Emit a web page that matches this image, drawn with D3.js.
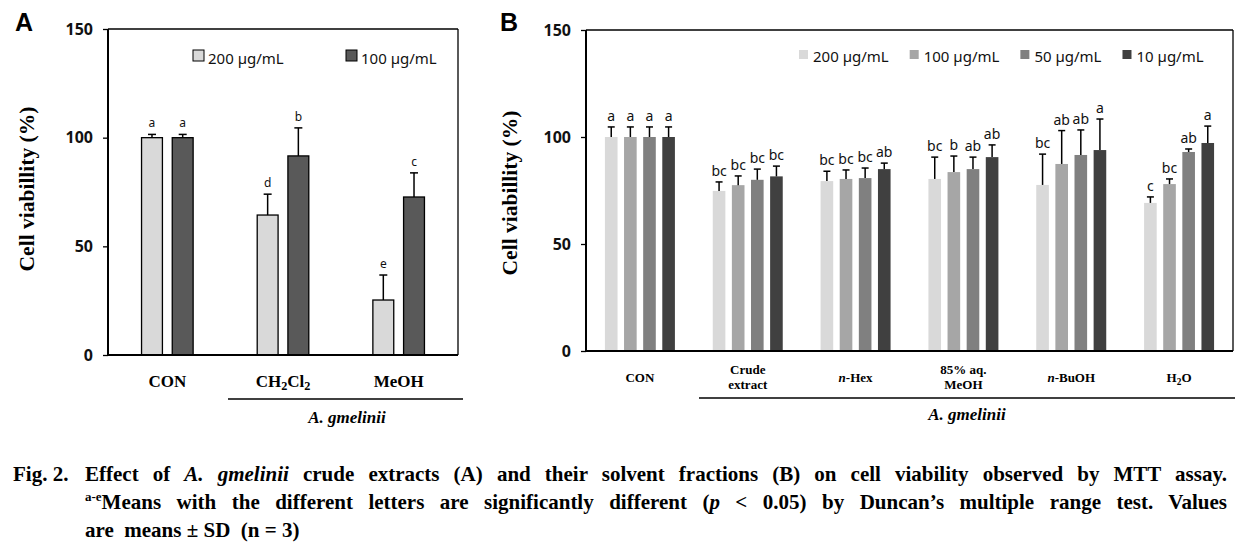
<!DOCTYPE html>
<html><head><meta charset="utf-8">
<script src="https://cdn.jsdelivr.net/npm/d3@7"></script>
<style>body{margin:0;background:#fff;} svg{display:block}</style>
</head><body>
<svg id="c" width="1252" height="549"></svg>
<script>
// ---------- data ----------
const yTicks = [0, 50, 100, 150];

const catsA = ["CON", "CH2Cl2", "MeOH"];
const labelsA = ["CON", "CH_2Cl_2", "MeOH"];
const seriesA = ["200 µg/mL", "100 µg/mL"];
const valuesA200 = [100, 64.4, 25.3];
const errorsA200 = [1.5, 9.6, 11.5];
const lettersA200 = ["a", "d", "e"];
const valuesA100 = [100, 91.6, 72.7];
const errorsA100 = [1.5, 12.9, 11.1];
const lettersA100 = ["a", "b", "c"];

const catsB = ["CON", "Crude extract", "n-Hex", "85% aq. MeOH", "n-BuOH", "H2O"];
const labelsB = ["CON", "Crude|extract", "*n*-Hex", "85% aq.|MeOH", "*n*-BuOH", "H_2O"];
const seriesB = ["200 µg/mL", "100 µg/mL", "50 µg/mL", "10 µg/mL"];
const valuesB200 = [100, 74.8, 79.4, 80.4, 77.6, 69.2];
const errorsB200 = [4.7, 4.2, 4.6, 10.2, 14.4, 2.8];
const lettersB200 = ["a", "bc", "bc", "bc", "bc", "c"];
const valuesB100 = [100, 77.5, 80.4, 83.6, 87.4, 78.0];
const errorsB100 = [4.7, 4.3, 4.2, 7.5, 15.6, 2.4];
const lettersB100 = ["a", "bc", "bc", "b", "ab", "bc"];
const valuesB50 = [100, 80.0, 80.8, 85.0, 91.6, 93.0];
const errorsB50 = [4.7, 5.0, 4.7, 5.6, 11.7, 1.4];
const lettersB50 = ["a", "bc", "bc", "ab", "ab", "ab"];
const valuesB10 = [100, 81.6, 85.0, 90.6, 93.9, 97.2];
const errorsB10 = [4.7, 4.8, 2.8, 5.7, 14.5, 7.9];
const lettersB10 = ["a", "bc", "ab", "ab", "a", "a"];

const groupLabel = "A. gmelinii";
const yTitle = "Cell viabillity (%)";

// ---------- drawing ----------
const svg = d3.select("#c");
const serif = "'Liberation Serif','Times New Roman',serif";
const sans = "'Noto Sans','Open Sans',sans-serif";

function richText(sel, markup) {
  const parts = markup.split(/(\*[^*]+\*|_\d)/).filter(s => s.length);
  let shifted = 0;
  parts.forEach(p => {
    const t = sel.append("tspan");
    if (p.startsWith("*")) { t.text(p.slice(1, -1)).attr("font-style", "italic"); if (shifted) { t.attr("dy", -shifted); shifted = 0; } }
    else if (p.startsWith("_")) { t.text(p.slice(1)).attr("font-size", "0.72em").attr("dy", 3 - shifted); shifted = 3; }
    else { t.text(p); if (shifted) { t.attr("dy", -shifted); shifted = 0; } }
  });
}

function drawPanel(o) {
  const g = svg.append("g");
  const y = d3.scaleLinear().domain([0, 150]).range([o.bottom, o.top]);
  const x0 = d3.scaleBand().domain(o.cats).range([o.left, o.right]).paddingInner(o.pIn).paddingOuter(o.pOut);
  const x1 = d3.scaleBand().domain(o.series).range([0, x0.bandwidth()]).paddingInner(o.barPad);

  o.series.forEach((s, si) => {
    const rows = o.cats.map((c, ci) => ({ c, v: o.values[si][ci], e: o.errors[si][ci], l: o.letters[si][ci] }));
    const sg = g.append("g");
    sg.selectAll("rect").data(rows).join("rect")
      .attr("x", d => x0(d.c) + x1(s)).attr("width", x1.bandwidth())
      .attr("y", d => y(d.v)).attr("height", d => y(0) - y(d.v))
      .attr("fill", o.colors[si])
      .attr("stroke", o.stroke ? "#000" : "none").attr("stroke-width", 1.3);
    const cx = d => x0(d.c) + x1(s) + x1.bandwidth() / 2;
    sg.selectAll("line.v").data(rows).join("line").attr("class", "v")
      .attr("x1", cx).attr("x2", cx).attr("y1", d => y(d.v)).attr("y2", d => y(d.v + d.e))
      .attr("stroke", "#000").attr("stroke-width", 1.5);
    sg.selectAll("line.cap").data(rows).join("line").attr("class", "cap")
      .attr("x1", d => cx(d) - o.cap / 2).attr("x2", d => cx(d) + o.cap / 2)
      .attr("y1", d => y(d.v + d.e)).attr("y2", d => y(d.v + d.e))
      .attr("stroke", "#000").attr("stroke-width", 1.5);
    sg.selectAll("text").data(rows).join("text")
      .attr("x", cx).attr("y", d => y(d.v + d.e) - o.letterOff)
      .attr("text-anchor", "middle").attr("font-family", sans).attr("font-size", o.letterSize)
      .attr("fill", "#111").text(d => d.l);
  });

  // frame
  g.append("line").attr("x1", o.left).attr("x2", o.right).attr("y1", o.top).attr("y2", o.top).attr("stroke", "#000").attr("stroke-width", 1.3);
  g.append("line").attr("x1", o.right).attr("x2", o.right).attr("y1", o.top).attr("y2", o.bottom).attr("stroke", "#000").attr("stroke-width", 1.3);
  g.append("line").attr("x1", o.left).attr("x2", o.right).attr("y1", o.bottom).attr("y2", o.bottom).attr("stroke", "#000").attr("stroke-width", 2);

  const ax = g.append("g").attr("transform", `translate(${o.left},0)`)
    .call(d3.axisLeft(y).tickValues(yTicks).tickSize(5).tickPadding(o.tickPad));
  ax.select(".domain").attr("stroke-width", 2).attr("d", `M0,${o.top}V${o.bottom}`);
  ax.selectAll(".tick line").attr("stroke-width", 1.3);
  ax.selectAll(".tick text").attr("font-family", sans).attr("font-weight", "bold").attr("font-size", 16).attr("fill", "#111");

  // category labels
  o.cats.forEach((c, ci) => {
    const lines = o.labels[ci].split("|");
    const cx = x0(c) + x0.bandwidth() / 2;
    lines.forEach((ln, li) => {
      const base = lines.length === 1 ? o.labY : o.labY2[li];
      const t = g.append("text").attr("x", cx).attr("y", base).attr("text-anchor", "middle")
        .attr("font-family", serif).attr("font-weight", "bold").attr("font-size", o.labSize);
      richText(t, ln);
    });
  });

  // group bracket
  g.append("line").attr("x1", o.brL).attr("x2", o.brR).attr("y1", o.brY).attr("y2", o.brY).attr("stroke", "#000").attr("stroke-width", 1.5);
  g.append("text").attr("x", o.grpX).attr("y", o.grpY).attr("text-anchor", "middle")
    .attr("font-family", serif).attr("font-weight", "bold").attr("font-style", "italic").attr("font-size", 17).text(groupLabel);

  // y title
  g.append("text").attr("transform", `translate(${o.titleX},${o.titleY}) rotate(-90)`)
    .attr("text-anchor", "middle").attr("font-family", serif).attr("font-weight", "bold").attr("font-size", 21.5).text(yTitle);

  // panel letter
  g.append("text").attr("x", o.letterX).attr("y", 31).attr("font-family", "'Liberation Sans',Arial,sans-serif")
    .attr("font-weight", "bold").attr("font-size", 25).text(o.panel);

  // legend
  let lx = o.legX;
  o.series.forEach((s, si) => {
    g.append("rect").attr("x", lx).attr("y", o.legY - o.legSq).attr("width", o.legSq).attr("height", o.legSq)
      .attr("fill", o.colors[si]).attr("stroke", o.stroke ? "#000" : "none").attr("stroke-width", 1);
    const t = g.append("text").attr("x", lx + o.legSq + o.legTxtGap).attr("y", o.legY + 3)
      .attr("font-family", sans).attr("font-size", 15).attr("fill", "#111").text(s);
    const w = t.node().getComputedTextLength();
    lx = o.legStep ? lx + o.legStep : lx + o.legSq + o.legTxtGap + w + o.legGap;
  });
}

drawPanel({
  panel: "A", letterX: 15,
  left: 108, right: 458, top: 29, bottom: 355,
  cats: catsA, labels: labelsA, series: seriesA,
  values: [valuesA200, valuesA100], errors: [errorsA200, errorsA100], letters: [lettersA200, lettersA100],
  colors: ["#d9d9d9", "#595959"], stroke: true,
  pIn: 0.554, pOut: 0.29, barPad: 0.32, cap: 8, letterOff: 7, letterSize: 12,
  tickPad: 10, labY: 387, labY2: [], labSize: 17,
  brL: 228, brR: 463, brY: 399, grpX: 347, grpY: 423,
  titleX: 34, titleY: 189,
  legX: 193, legY: 61, legSq: 11, legTxtGap: 4, legStep: 153
});

drawPanel({
  panel: "B", letterX: 500,
  left: 586, right: 1233, top: 30, bottom: 351,
  cats: catsB, labels: labelsB, series: seriesB,
  values: [valuesB200, valuesB100, valuesB50, valuesB10],
  errors: [errorsB200, errorsB100, errorsB50, errorsB10],
  letters: [lettersB200, lettersB100, lettersB50, lettersB10],
  colors: ["#d9d9d9", "#a6a6a6", "#808080", "#404040"], stroke: false,
  pIn: 0.351, pOut: 0.1755, barPad: 0.34, cap: 7, letterOff: 6, letterSize: 14,
  tickPad: 10, labY: 382, labY2: [374, 389], labSize: 13,
  brL: 699, brR: 1235, brY: 398, grpX: 967, grpY: 420,
  titleX: 517, titleY: 193,
  legX: 799, legY: 59, legSq: 9, legTxtGap: 5, legGap: 21
});

// ---------- caption ----------
const capSize = 21;
const capLeft = 85, capRight = 1227;
function capLine(y, runs, justify) {
  const t = svg.append("text").attr("x", capLeft).attr("y", y).attr("font-family", serif)
    .attr("font-weight", "bold").attr("font-size", capSize).attr("fill", "#000").style("white-space", "pre");
  let sup = false;
  let spaces = 0;
  runs.forEach(r => {
    const ts = t.append("tspan").text(r.t);
    if (r.i) ts.attr("font-style", "italic");
    if (r.sup) { ts.attr("font-size", 13).attr("dy", -8); sup = true; }
    else if (sup) { ts.attr("dy", 8); sup = false; }
    if (!r.sup) spaces += (r.t.match(/ /g) || []).length;
  });
  if (justify) {
    const w = t.node().getComputedTextLength();
    t.attr("word-spacing", (capRight - capLeft - w) / spaces);
  }
  return t;
}
svg.append("text").attr("x", 13).attr("y", 481).attr("font-family", serif).attr("font-weight", "bold")
  .attr("font-size", capSize).text("Fig. 2.");
capLine(481, [{ t: "Effect of " }, { t: "A. gmelinii", i: true },
  { t: " crude extracts (A) and their solvent fractions (B) on cell viability observed by MTT assay." }], true);
capLine(509, [{ t: "a-e", sup: true }, { t: "Means with the different letters are significantly different (" },
  { t: "p", i: true }, { t: " < 0.05) by Duncan’s multiple range test. Values" }], true);
capLine(537, [{ t: "are  means ± SD  (n = 3)" }], false);
</script>
</body></html>
